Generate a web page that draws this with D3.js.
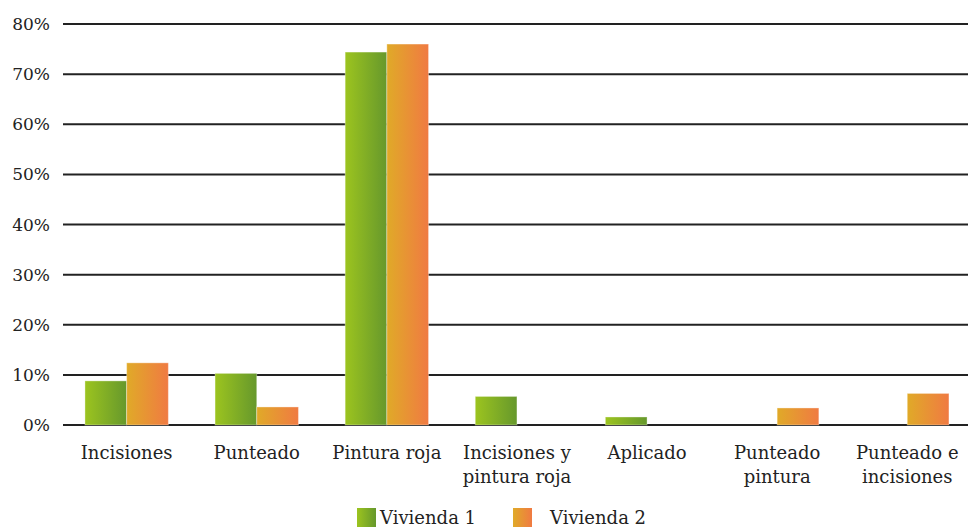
<!DOCTYPE html>
<html>
<head>
<script src="https://cdnjs.cloudflare.com/ajax/libs/d3/7.8.5/d3.min.js"></script>
<style>
  body { margin: 0; background: #fff; }
  text { font-family: "DejaVu Serif", serif; fill: #222; }
</style>
</head>
<body>
<div id="vis"></div>
<script>
var categories = [["Incisiones"], ["Punteado"], ["Pintura roja"], ["Incisiones y", "pintura roja"],
    ["Aplicado"], ["Punteado", "pintura"], ["Punteado e", "incisiones"]];
var series = ["Vivienda 1", "Vivienda 2"];
var vivienda1 = [8.8, 10.3, 74.4, 5.7, 1.6, 0, 0];
var vivienda2 = [12.4, 3.6, 76.0, 0, 0, 3.4, 6.3];
var yTicks = [0, 10, 20, 30, 40, 50, 60, 70, 80];

var w = 968, h = 527;
var left = 61.6, bandW = 130.1;
var svg = d3.select("#vis").append("svg").attr("width", w).attr("height", h);

var defs = svg.append("defs");
var grads = [["g1", "#9cc41f", "#66982c"], ["g2", "#e0aa28", "#f07a42"]];
grads.forEach(g => {
    var lg = defs.append("linearGradient").attr("id", g[0]).attr("x1", 0).attr("x2", 1).attr("y1", 0).attr("y2", 0);
    lg.append("stop").attr("offset", "0%").attr("stop-color", g[1]);
    lg.append("stop").attr("offset", "100%").attr("stop-color", g[2]);
});

var x = d3.scaleBand().domain(d3.range(categories.length))
    .range([left, left + bandW * categories.length]);
var y = d3.scaleLinear().domain([0, 80]).range([425, 24]);
var xs = d3.scaleBand().domain([0, 1]).range([0, x.bandwidth()]).paddingOuter(0.56);

// gridlines
svg.append("g").selectAll("line").data(yTicks).join("line")
    .attr("x1", 63).attr("x2", w)
    .attr("y1", d => y(d)).attr("y2", d => y(d))
    .attr("stroke", "#222").attr("stroke-width", 2);

svg.append("g").selectAll("text").data(yTicks).join("text")
    .attr("x", 50).attr("y", d => y(d) + 6)
    .attr("text-anchor", "end").attr("font-size", 17)
    .text(d => d + "%");

// bars
[vivienda1, vivienda2].forEach((vals, s) => {
    svg.append("g").selectAll("rect")
        .data(vals.map((v, i) => ({i: i, v: v})).filter(d => d.v > 0))
        .join("rect")
        .attr("x", d => x(d.i) + xs(s))
        .attr("y", d => y(d.v))
        .attr("width", xs.bandwidth())
        .attr("height", d => y(0) - y(d.v))
        .attr("fill", "url(#g" + (s + 1) + ")")
        .attr("stroke", "rgba(255,255,255,0.35)").attr("stroke-width", 1);
});

// category labels
var lab = svg.append("g").selectAll("text").data(categories).join("text")
    .attr("text-anchor", "middle").attr("font-size", 18)
    .attr("transform", (d, i) => "translate(" + (x(i) + x.bandwidth() / 2) + ",459)");
lab.selectAll("tspan").data(d => d).join("tspan")
    .attr("x", 0).attr("dy", (d, i) => i === 0 ? 0 : 24)
    .text(d => d);

// legend
var legX = [357, 513];
var legT = [380, 550];
series.forEach((s, i) => {
    svg.append("rect").attr("x", legX[i]).attr("y", 508).attr("width", 19).attr("height", 19)
        .attr("fill", "url(#g" + (i + 1) + ")");
    svg.append("text").attr("x", legT[i]).attr("y", 524)
        .attr("font-size", 18).text(s);
});
</script>
</body>
</html>
